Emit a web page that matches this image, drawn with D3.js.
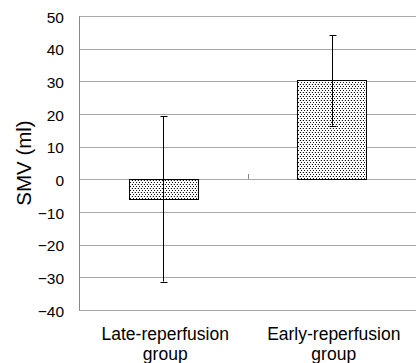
<!DOCTYPE html>
<html><head><meta charset="utf-8">
<script src="https://cdn.jsdelivr.net/npm/d3@7"></script>
<style>html,body{margin:0;padding:0;background:#fff;}</style>
</head><body>
<script>
const categories = ["Late-reperfusion|group", "Early-reperfusion|group"];
const means = [-6.0, 30.4];
const errLow = [-31.3, 16.4];
const errHigh = [19.4, 44.2];
const yTicks = [50, 40, 30, 20, 10, 0, -10, -20, -30, -40];
const yLabel = "SMV (ml)";

const W = 417, H = 363;
const m = {left: 79, right: 1, top: 16, bottom: 53};
const svg = d3.select("body").append("svg").attr("width", W).attr("height", H);
const font = "'Liberation Sans', Arial, sans-serif";

const defs = svg.append("defs");
const pat = defs.append("pattern").attr("id", "dots").attr("patternUnits", "userSpaceOnUse")
  .attr("width", 3).attr("height", 4);
pat.append("rect").attr("width", 3).attr("height", 4).attr("fill", "#fff");
pat.append("rect").attr("x", 0).attr("y", 0).attr("width", 1).attr("height", 1).attr("fill", "#111");
pat.append("rect").attr("x", 1).attr("y", 2).attr("width", 1).attr("height", 1).attr("fill", "#111");
pat.append("rect").attr("x", 2).attr("y", 0).attr("width", 1).attr("height", 1).attr("fill", "#ccc");

const x = d3.scaleBand().domain(categories).range([m.left, W - m.right]).paddingInner(0).paddingOuter(0);
const y = d3.scaleLinear().domain([-40, 50]).range([H - m.bottom, m.top]);

// gridlines
svg.append("g").selectAll("line").data(yTicks).join("line")
  .attr("x1", m.left).attr("x2", W - m.right)
  .attr("y1", d => Math.round(y(d)) + 0.5).attr("y2", d => Math.round(y(d)) + 0.5)
  .attr("stroke", "#a8a8a8").attr("stroke-width", 1);

// left axis line
svg.append("line").attr("x1", m.left + 0.5).attr("x2", m.left + 0.5)
  .attr("y1", Math.round(y(50)) + 0.5).attr("y2", Math.round(y(-40)) + 0.5)
  .attr("stroke", "#888");

// tick labels
const yAxis = d3.axisLeft(y).tickValues(yTicks).tickSize(0).tickPadding(15)
  .tickFormat(d => d < 0 ? "\u2212" + Math.abs(d) : String(d));
const ga = svg.append("g").attr("transform", `translate(${m.left},0)`).call(yAxis);
ga.select(".domain").remove();
ga.selectAll("text").attr("font-family", font).attr("font-size", 15.5).attr("fill", "#000")
  .attr("dy", "0.4em");

// category ticks on zero line
const bounds = [m.left + x.bandwidth()];
svg.append("g").selectAll("line").data(bounds).join("line")
  .attr("x1", d => Math.round(d) + 0.5).attr("x2", d => Math.round(d) + 0.5)
  .attr("y1", Math.round(y(0)) - 5).attr("y2", Math.round(y(0)))
  .attr("stroke", "#888");

// bars
const bw = x.bandwidth() * 0.41;
svg.append("g").selectAll("rect").data(categories).join("rect")
  .attr("x", d => Math.round(x(d) + x.bandwidth() / 2 - bw / 2) + 0.5)
  .attr("y", (d, i) => Math.round(y(Math.max(0, means[i]))) + 0.5)
  .attr("width", Math.round(bw))
  .attr("height", (d, i) => Math.round(Math.abs(y(means[i]) - y(0))))
  .attr("fill", "url(#dots)").attr("stroke", "#000").attr("stroke-width", 1);

// error bars
const eg = svg.append("g").attr("stroke", "#000").attr("stroke-width", 1);
categories.forEach((c, i) => {
  const cx = Math.round(x(c) + x.bandwidth() / 2) + 0.5;
  eg.append("line").attr("x1", cx).attr("x2", cx).attr("y1", y(errLow[i])).attr("y2", y(errHigh[i]));
  [errLow[i], errHigh[i]].forEach(v => {
    eg.append("line").attr("x1", cx - 3).attr("x2", cx + 4)
      .attr("y1", Math.round(y(v)) + 0.5).attr("y2", Math.round(y(v)) + 0.5);
  });
});

// category labels
svg.append("g").selectAll("text").data(categories).join("text")
  .attr("y", 340)
  .attr("text-anchor", "middle").attr("font-family", font).attr("font-size", 17.5).attr("fill", "#000")
  .each(function(d) {
    const parts = d.split("|");
    d3.select(this).selectAll("tspan").data(parts).join("tspan")
      .attr("x", x(d) + x.bandwidth() / 2 + 2)
      .attr("dy", (p, j) => j === 0 ? 0 : 20)
      .text(p => p);
  });

// y label
svg.append("text").attr("transform", `translate(31,${(y(50) + y(-40)) / 2}) rotate(-90)`)
  .attr("text-anchor", "middle").attr("font-family", font).attr("font-size", 20.5).attr("fill", "#000")
  .text(yLabel);
</script>
</body></html>
